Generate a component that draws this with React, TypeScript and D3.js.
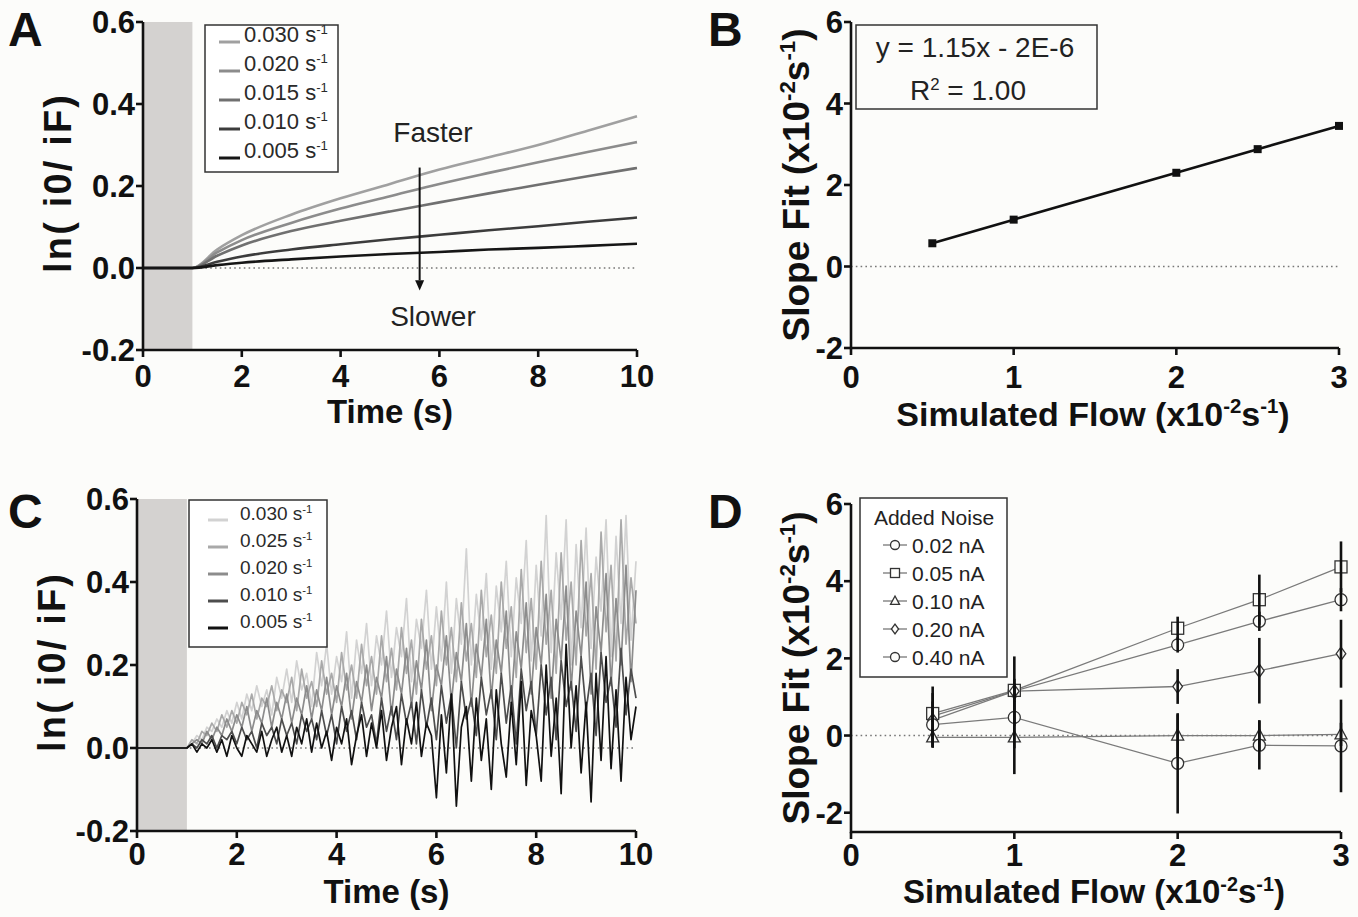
import React from 'react';
import * as d3 from 'd3';

const FONT = '"Liberation Sans", Arial, Helvetica, sans-serif';
const BG = '#fcfcfa';
const INK = '#111';

// ---- panel A: simulated traces ----
const timeA = [0, 1, 1.5, 2, 3, 4, 5, 6, 7, 8, 9, 10];
const ratesA = ['0.030', '0.020', '0.015', '0.010', '0.005'];
const colorsA = ['#a0a0a0', '#8c8c8c', '#707070', '#3c3c3c', '#161616'];
const tracesA = [
  [0, 0, 0.045, 0.08, 0.13, 0.17, 0.205, 0.24, 0.27, 0.3, 0.335, 0.37],
  [0, 0, 0.038, 0.068, 0.11, 0.145, 0.175, 0.205, 0.232, 0.258, 0.283, 0.307],
  [0, 0, 0.03, 0.055, 0.09, 0.115, 0.138, 0.16, 0.182, 0.203, 0.224, 0.244],
  [0, 0, 0.015, 0.028, 0.045, 0.058, 0.07, 0.081, 0.092, 0.102, 0.113, 0.123],
  [0, 0, 0.007, 0.013, 0.021, 0.028, 0.034, 0.039, 0.045, 0.049, 0.054, 0.059],
];

// ---- panel B: fitted slope vs flow ----
const flowB = [0.5, 1, 2, 2.5, 3];
const slopeB = [0.57, 1.15, 2.3, 2.88, 3.45];

// ---- panel C: traces with noise, sampled every 0.1 s from 1 s ----
const timeC = [0, ...d3.range(10, 101).map((d) => d / 10)];
const ratesC = ['0.030', '0.025', '0.020', '0.010', '0.005'];
const colorsC = ['#d2d2d2', '#a9a9a9', '#8c8c8c', '#4d4d4d', '#111111'];
const tracesC = [
  [0,
    0, 0.01, 0.03, 0.02, 0.05, 0.04, 0.07, 0.05, 0.09, 0.06,
    0.11, 0.07, 0.13, 0.09, 0.15, 0.1, 0.14, 0.08, 0.17, 0.12,
    0.19, 0.11, 0.21, 0.14, 0.18, 0.1, 0.23, 0.15, 0.25, 0.13,
    0.22, 0.16, 0.28, 0.12, 0.26, 0.18, 0.3, 0.15, 0.27, 0.2,
    0.33, 0.17, 0.29, 0.22, 0.36, 0.16, 0.31, 0.24, 0.38, 0.19,
    0.34, 0.21, 0.4, 0.18, 0.36, 0.25, 0.48, 0.2, 0.37, 0.26,
    0.42, 0.19, 0.39, 0.28, 0.45, 0.22, 0.41, 0.3, 0.5, 0.21,
    0.44, 0.27, 0.56, 0.23, 0.47, 0.31, 0.55, 0.2, 0.49, 0.29,
    0.53, 0.24, 0.46, 0.33, 0.55, 0.22, 0.51, 0.3, 0.56, 0.26, 0.45],
  [0,
    0, 0.02, 0.01, 0.04, 0.03, 0.06, 0.04, 0.08, 0.05, 0.09,
    0.06, 0.11, 0.08, 0.13, 0.07, 0.12, 0.1, 0.15, 0.09, 0.14,
    0.11, 0.17, 0.09, 0.19, 0.12, 0.16, 0.1, 0.21, 0.13, 0.18,
    0.11, 0.23, 0.14, 0.2, 0.12, 0.25, 0.15, 0.22, 0.13, 0.27,
    0.16, 0.24, 0.14, 0.29, 0.18, 0.26, 0.13, 0.31, 0.19, 0.27,
    0.15, 0.33, 0.2, 0.29, 0.16, 0.35, 0.21, 0.3, 0.17, 0.38,
    0.22, 0.32, 0.18, 0.4, 0.24, 0.34, 0.17, 0.43, 0.23, 0.36,
    0.19, 0.45, 0.25, 0.38, 0.18, 0.47, 0.26, 0.4, 0.2, 0.5,
    0.27, 0.42, 0.19, 0.52, 0.28, 0.44, 0.21, 0.55, 0.25, 0.41, 0.3],
  [0,
    0, 0.01, 0.02, 0.01, 0.04, 0.02, 0.05, 0.03, 0.07, 0.04,
    0.08, 0.05, 0.1, 0.04, 0.09, 0.06, 0.12, 0.05, 0.11, 0.07,
    0.13, 0.06, 0.12, 0.08, 0.15, 0.07, 0.14, 0.09, 0.17, 0.08,
    0.15, 0.1, 0.18, 0.07, 0.16, 0.11, 0.2, 0.09, 0.17, 0.12,
    0.22, 0.08, 0.19, 0.13, 0.24, 0.1, 0.21, 0.14, 0.26, 0.09,
    0.2, 0.15, 0.27, 0.11, 0.23, 0.16, 0.3, 0.1, 0.25, 0.17,
    0.31, 0.12, 0.26, 0.18, 0.33, 0.11, 0.28, 0.19, 0.35, 0.13,
    0.29, 0.2, 0.37, 0.12, 0.31, 0.21, 0.39, 0.14, 0.33, 0.22,
    0.4, 0.13, 0.34, 0.23, 0.42, 0.15, 0.36, 0.2, 0.44, 0.16, 0.38],
  [0,
    0, 0.01, 0, 0.02, 0.01, 0.03, 0, 0.03, 0.02, 0.04,
    0.01, 0.05, 0.02, 0.04, 0, 0.06, 0.03, 0.05, 0.01, 0.07,
    0.03, 0.06, 0.01, 0.08, 0.04, 0.07, 0.02, 0.09, 0.03, 0.08,
    0.01, 0.1, 0.04, 0.09, 0.02, 0.11, 0.05, 0.08, 0.01, 0.12,
    0.04, 0.1, 0.02, 0.13, 0.06, 0.11, 0.01, 0.14, 0.05, 0.12,
    0.02, 0.15, 0.06, 0.13, 0, 0.16, 0.07, 0.12, 0.03, 0.17,
    0.08, 0.14, 0.02, 0.18, 0.06, 0.15, 0.01, 0.19, 0.09, 0.16,
    0.03, 0.2, 0.08, 0.17, 0.02, 0.21, 0.1, 0.16, 0.04, 0.22,
    0.09, 0.18, 0.03, 0.23, 0.11, 0.17, 0.05, 0.24, 0.08, 0.19, 0.12],
  [0,
    0, 0.01, -0.01, 0.01, 0, 0.02, -0.01, 0.02, -0.02, 0.03,
    0, -0.02, 0.03, 0.01, -0.01, 0.04, -0.02, 0.02, 0.05, -0.01,
    0.03, -0.02, 0.05, 0.01, 0.07, -0.01, 0.06, 0, 0.04, -0.03,
    0.05, 0.01, 0.07, -0.04, 0.03, 0.08, -0.02, 0.06, 0, 0.09,
    -0.03, 0.05, 0.1, -0.04, 0.07, 0.01, 0.11, -0.02, 0.06, 0.03,
    -0.12, 0.08, -0.06, 0.13, -0.14, 0.05, 0.1, -0.08, 0.12, -0.03,
    0.07, -0.1, 0.14, 0.01, -0.07, 0.11, -0.04, 0.16, -0.09, 0.09,
    0.03, -0.08, 0.2, -0.02, 0.12, -0.11, 0.25, 0, 0.15, -0.06,
    0.11, -0.13, 0.18, -0.03, 0.22, -0.05, 0.14, -0.08, 0.17, 0.02, 0.1],
];

// ---- panel D: fitted slope with added noise ----
const flowD = [0.5, 1, 2, 2.5, 3];
const noiseLabels = ['0.02 nA', '0.05 nA', '0.10 nA', '0.20 nA', '0.40 nA'];
const noiseShapes = ['circle', 'square', 'triangle', 'diamond', 'circle'];
const slopeD = [
  [0.5, 1.15, 2.35, 2.96, 3.52],
  [0.57, 1.17, 2.78, 3.52, 4.37],
  [-0.05, -0.05, 0, 0, 0.03],
  [0.4, 1.15, 1.27, 1.68, 2.12],
  [0.28, 0.47, -0.72, -0.25, -0.27],
];
const errD = [
  [0.15, 0.2, 0.2, 0.25, 0.3],
  [0.7, 0.3, 0.3, 0.65, 0.66],
  [0.25, 0.95, 0.55, 0.4, 0.3],
  [0.7, 0.9, 0.45, 0.85, 0.88],
  [0.6, 0.8, 1.3, 0.63, 1.2],
];

const timeTicks = [0, 2, 4, 6, 8, 10];
const lnTicks = [-0.2, 0, 0.2, 0.4, 0.6];
const flowTicks = [0, 1, 2, 3];
const slopeTicks = [-2, 0, 2, 4, 6];

const fmtLn = (t: number) => t.toFixed(1);
const fmtInt = (t: number) => String(t);

type Part = [string, boolean];
const unitParts = (pre: string): Part[] => [[pre + '(x10', false], ['-2', true], ['s', false], ['-1', true], [')', false]];

function SupText({ parts, fs }: { parts: Part[]; fs: number }) {
  let prev = false;
  return (
    <>
      {parts.map(([t, sup], i) => {
        const dy = sup === prev ? 0 : sup ? -0.37 * fs : 0.37 * fs;
        prev = sup;
        return (
          <tspan key={i} dy={dy} fontSize={sup ? fs * 0.6 : fs}>
            {t}
          </tspan>
        );
      })}
    </>
  );
}

function Axes({ x, y, xTicks, yTicks, yFmt, tickDy }: any) {
  const [x0, x1] = x.range();
  const [yb, yt] = y.range();
  return (
    <g stroke={INK} strokeWidth={2.6} fontFamily={FONT} fontWeight="bold" fontSize={31}>
      <line x1={x0} x2={x1} y1={yb} y2={yb} />
      <line x1={x0} x2={x0} y1={yb + 1.3} y2={yt} />
      {xTicks.map((t: number) => (
        <g key={'x' + t}>
          <line x1={x(t)} x2={x(t)} y1={yb} y2={yb + 7} />
          <text x={x(t)} y={yb + tickDy} textAnchor="middle" stroke="none" fill={INK}>
            {t}
          </text>
        </g>
      ))}
      {yTicks.map((t: number) => (
        <g key={'y' + t}>
          <line x1={x0 - 7} x2={x0} y1={y(t)} y2={y(t)} />
          <text x={x0 - 8} y={y(t)} dy="0.36em" textAnchor="end" stroke="none" fill={INK}>
            {yFmt(t)}
          </text>
        </g>
      ))}
    </g>
  );
}

function ZeroLine({ x, y }: any) {
  const [x0, x1] = x.range();
  return <line x1={x0} x2={x1} y1={y(0)} y2={y(0)} stroke="#777" strokeWidth={1.6} strokeDasharray="1.6,3.2" />;
}

function PanelLetter({ x, y, t }: any) {
  return (
    <text x={x} y={y} fontFamily={FONT} fontWeight="bold" fontSize={48} fill={INK}>
      {t}
    </text>
  );
}

function TimePanel({ x, y, times, traces, colors, rates, legend, letter, noisy, titleDy, tickDy, children }: any) {
  const line = d3
    .line<number>()
    .x((_, i) => x(times[i]))
    .y((d) => y(d))
    .curve(noisy ? d3.curveLinear : d3.curveMonotoneX);
  const [x0, x1] = x.range();
  const [yb, yt] = y.range();
  return (
    <g>
      <ZeroLine x={x} y={y} />
      <rect x={x(0)} y={yt} width={x(1) - x(0)} height={yb - yt} fill="#d4d2d0" />
      {traces.map((tr: number[], i: number) => (
        <path key={i} d={line(tr) || ''} fill="none" stroke={colors[i]} strokeWidth={noisy ? 1.7 : 2.6} strokeLinejoin="round" />
      ))}
      <Axes x={x} y={y} xTicks={timeTicks} yTicks={lnTicks} yFmt={fmtLn} tickDy={tickDy} />
      <text x={(x0 + x1) / 2} y={yb + titleDy} textAnchor="middle" fontFamily={FONT} fontWeight="bold" fontSize={33} fill={INK}>
        Time (s)
      </text>
      <text
        transform={`translate(${x0 - 72},${(yb + yt) / 2 - 2}) rotate(-90)`}
        textAnchor="middle"
        fontFamily={FONT}
        fontWeight="bold"
        fontSize={38}
        fill={INK}
        textLength={178}
        lengthAdjust="spacing"
      >
        ln( i0/ iF)
      </text>
      <g fontFamily={FONT}>
        <rect x={legend.x} y={legend.y} width={legend.w} height={legend.h} fill="#fff" stroke="#333" strokeWidth={1.5} />
        {rates.map((r: string, i: number) => {
          const cy = legend.y + legend.first + i * legend.step;
          return (
            <g key={r}>
              <line x1={legend.lx0} x2={legend.lx1} y1={cy} y2={cy} stroke={colors[i]} strokeWidth={3} />
              <text x={legend.tx} y={cy} dy="0.36em" fill="#2a2a2a" fontSize={legend.fs}>
                <SupText parts={[[r + ' s', false], ['-1', true]]} fs={legend.fs} />
              </text>
            </g>
          );
        })}
      </g>
      {children}
      <PanelLetter x={letter[0]} y={letter[1]} t={letter[2]} />
    </g>
  );
}

function Marker({ shape, cx, cy, s }: any) {
  const st = { fill: BG, stroke: '#333', strokeWidth: 1.3 };
  if (shape === 'square') return <rect x={cx - s} y={cy - s} width={2 * s} height={2 * s} {...st} />;
  if (shape === 'triangle')
    return <path d={`M${cx},${cy - s * 1.1}L${cx + s},${cy + s * 0.75}L${cx - s},${cy + s * 0.75}Z`} {...st} />;
  if (shape === 'diamond') return <path d={`M${cx},${cy - s * 1.1}L${cx + s * 0.8},${cy}L${cx},${cy + s * 1.1}L${cx - s * 0.8},${cy}Z`} {...st} />;
  return <circle cx={cx} cy={cy} r={s} {...st} />;
}

function FlowAxesLabels({ x, y, letter, titleDy, fs }: any) {
  const [x0, x1] = x.range();
  const [yb, yt] = y.range();
  return (
    <g fontFamily={FONT} fontWeight="bold" fill={INK}>
      <text x={(x0 + x1) / 2 - 2} y={yb + titleDy} textAnchor="middle" fontSize={fs}>
        <SupText parts={unitParts('Simulated Flow ')} fs={fs} />
      </text>
      <text transform={`translate(${x0 - 42},${(yb + yt) / 2}) rotate(-90)`} textAnchor="middle" fontSize={37}>
        <SupText parts={unitParts('Slope Fit ')} fs={37} />
      </text>
      <PanelLetter x={letter[0]} y={letter[1]} t={letter[2]} />
    </g>
  );
}

export default function App() {
  const xA = d3.scaleLinear().domain([0, 10]).range([143, 637]);
  const yA = d3.scaleLinear().domain([-0.2, 0.6]).range([350, 22]);
  const xB = d3.scaleLinear().domain([0, 3]).range([851, 1339]);
  const yB = d3.scaleLinear().domain([-2, 6]).range([348, 22]);
  const xC = d3.scaleLinear().domain([0, 10]).range([137, 636]);
  const yC = d3.scaleLinear().domain([-0.2, 0.6]).range([831, 499]);
  const xD = d3.scaleLinear().domain([0, 3]).range([851, 1341]);
  const yD = d3.scaleLinear().domain([-2.5, 6]).range([832, 504]);

  const lineB = d3
    .line<number>()
    .x((_, i) => xB(flowB[i]))
    .y((d) => yB(d));
  const lineD = d3
    .line<number>()
    .x((_, i) => xD(flowD[i]))
    .y((d) => yD(d));

  return (
    <svg width={1358} height={917} style={{ position: 'absolute', left: 0, top: 0, background: BG }}>
      <rect width={1358} height={917} fill={BG} />

      {/* A */}
      <TimePanel
        x={xA}
        y={yA}
        times={timeA}
        traces={tracesA}
        colors={colorsA}
        rates={ratesA}
        titleDy={73}
        tickDy={37}
        letter={[8, 46, 'A']}
        legend={{ x: 205, y: 25, w: 133, h: 147, first: 17, step: 29, lx0: 219, lx1: 240, tx: 244, fs: 22 }}
      >
        <g fontFamily={FONT} fontSize={28} fill="#222">
          <text x={xA(5.87)} y={yA(0.307)} textAnchor="middle">
            Faster
          </text>
          <text x={xA(5.87)} y={yA(-0.142)} textAnchor="middle">
            Slower
          </text>
        </g>
        <line x1={xA(5.6)} x2={xA(5.6)} y1={yA(0.245)} y2={yA(-0.03)} stroke="#111" strokeWidth={2} />
        <path
          d={`M${xA(5.6) - 4.5},${yA(-0.03)}L${xA(5.6) + 4.5},${yA(-0.03)}L${xA(5.6)},${yA(-0.055)}Z`}
          fill="#111"
        />
      </TimePanel>

      {/* B */}
      <g>
        <ZeroLine x={xB} y={yB} />
        <path d={lineB(slopeB) || ''} fill="none" stroke="#111" strokeWidth={2.6} />
        {slopeB.map((v, i) => (
          <rect key={i} x={xB(flowB[i]) - 4} y={yB(v) - 4} width={8} height={8} fill="#111" />
        ))}
        <Axes x={xB} y={yB} xTicks={flowTicks} yTicks={slopeTicks} yFmt={fmtInt} tickDy={40} />
        <rect x={856} y={25} width={241} height={84} fill="none" stroke="#333" strokeWidth={1.5} />
        <g fontFamily={FONT} fontSize={28} fill="#222" textAnchor="middle">
          <text x={975} y={57}>
            y = 1.15x - 2E-6
          </text>
          <text x={968} y={100}>
            <SupText parts={[['R', false], ['2', true], [' = 1.00', false]]} fs={28} />
          </text>
        </g>
        <FlowAxesLabels x={xB} y={yB} titleDy={78} fs={34} letter={[708, 46, 'B']} />
      </g>

      {/* C */}
      <TimePanel
        x={xC}
        y={yC}
        times={timeC}
        traces={tracesC}
        colors={colorsC}
        rates={ratesC}
        noisy
        titleDy={72}
        tickDy={34}
        letter={[8, 528, 'C']}
        legend={{ x: 189, y: 500, w: 138, h: 147, first: 20, step: 27, lx0: 208, lx1: 228, tx: 240, fs: 19 }}
      />

      {/* D */}
      <g>
        <ZeroLine x={xD} y={yD} />
        {slopeD.map((s, k) => (
          <path key={'l' + k} d={lineD(s) || ''} fill="none" stroke="#7a7a7a" strokeWidth={1.3} />
        ))}
        {slopeD.map((s, k) =>
          s.map((v, i) => <Marker key={k + '-' + i} shape={noiseShapes[k]} cx={xD(flowD[i])} cy={yD(v)} s={6} />)
        )}
        {slopeD.map((s, k) =>
          s.map((v, i) => (
            <line
              key={'e' + k + '-' + i}
              x1={xD(flowD[i])}
              x2={xD(flowD[i])}
              y1={yD(v - errD[k][i])}
              y2={yD(v + errD[k][i])}
              stroke="#111"
              strokeWidth={2.6}
            />
          ))
        )}
        <Axes x={xD} y={yD} xTicks={flowTicks} yTicks={slopeTicks} yFmt={fmtInt} tickDy={34} />
        <g fontFamily={FONT} fontSize={21} fill="#222">
          <rect x={860} y={498} width={147} height={179} fill="#fff" stroke="#333" strokeWidth={1.5} />
          <text x={934} y={517} dy="0.36em" textAnchor="middle">
            Added  Noise
          </text>
          {noiseLabels.map((lab, k) => {
            const cy = 545 + k * 28;
            return (
              <g key={lab}>
                <line x1={883} x2={907} y1={cy} y2={cy} stroke="#777" strokeWidth={1.3} />
                <Marker shape={noiseShapes[k]} cx={895} cy={cy} s={4.5} />
                <text x={912} y={cy} dy="0.36em">
                  {lab}
                </text>
              </g>
            );
          })}
        </g>
        <FlowAxesLabels x={xD} y={yD} titleDy={71} fs={33} letter={[708, 528, 'D']} />
      </g>
    </svg>
  );
}
